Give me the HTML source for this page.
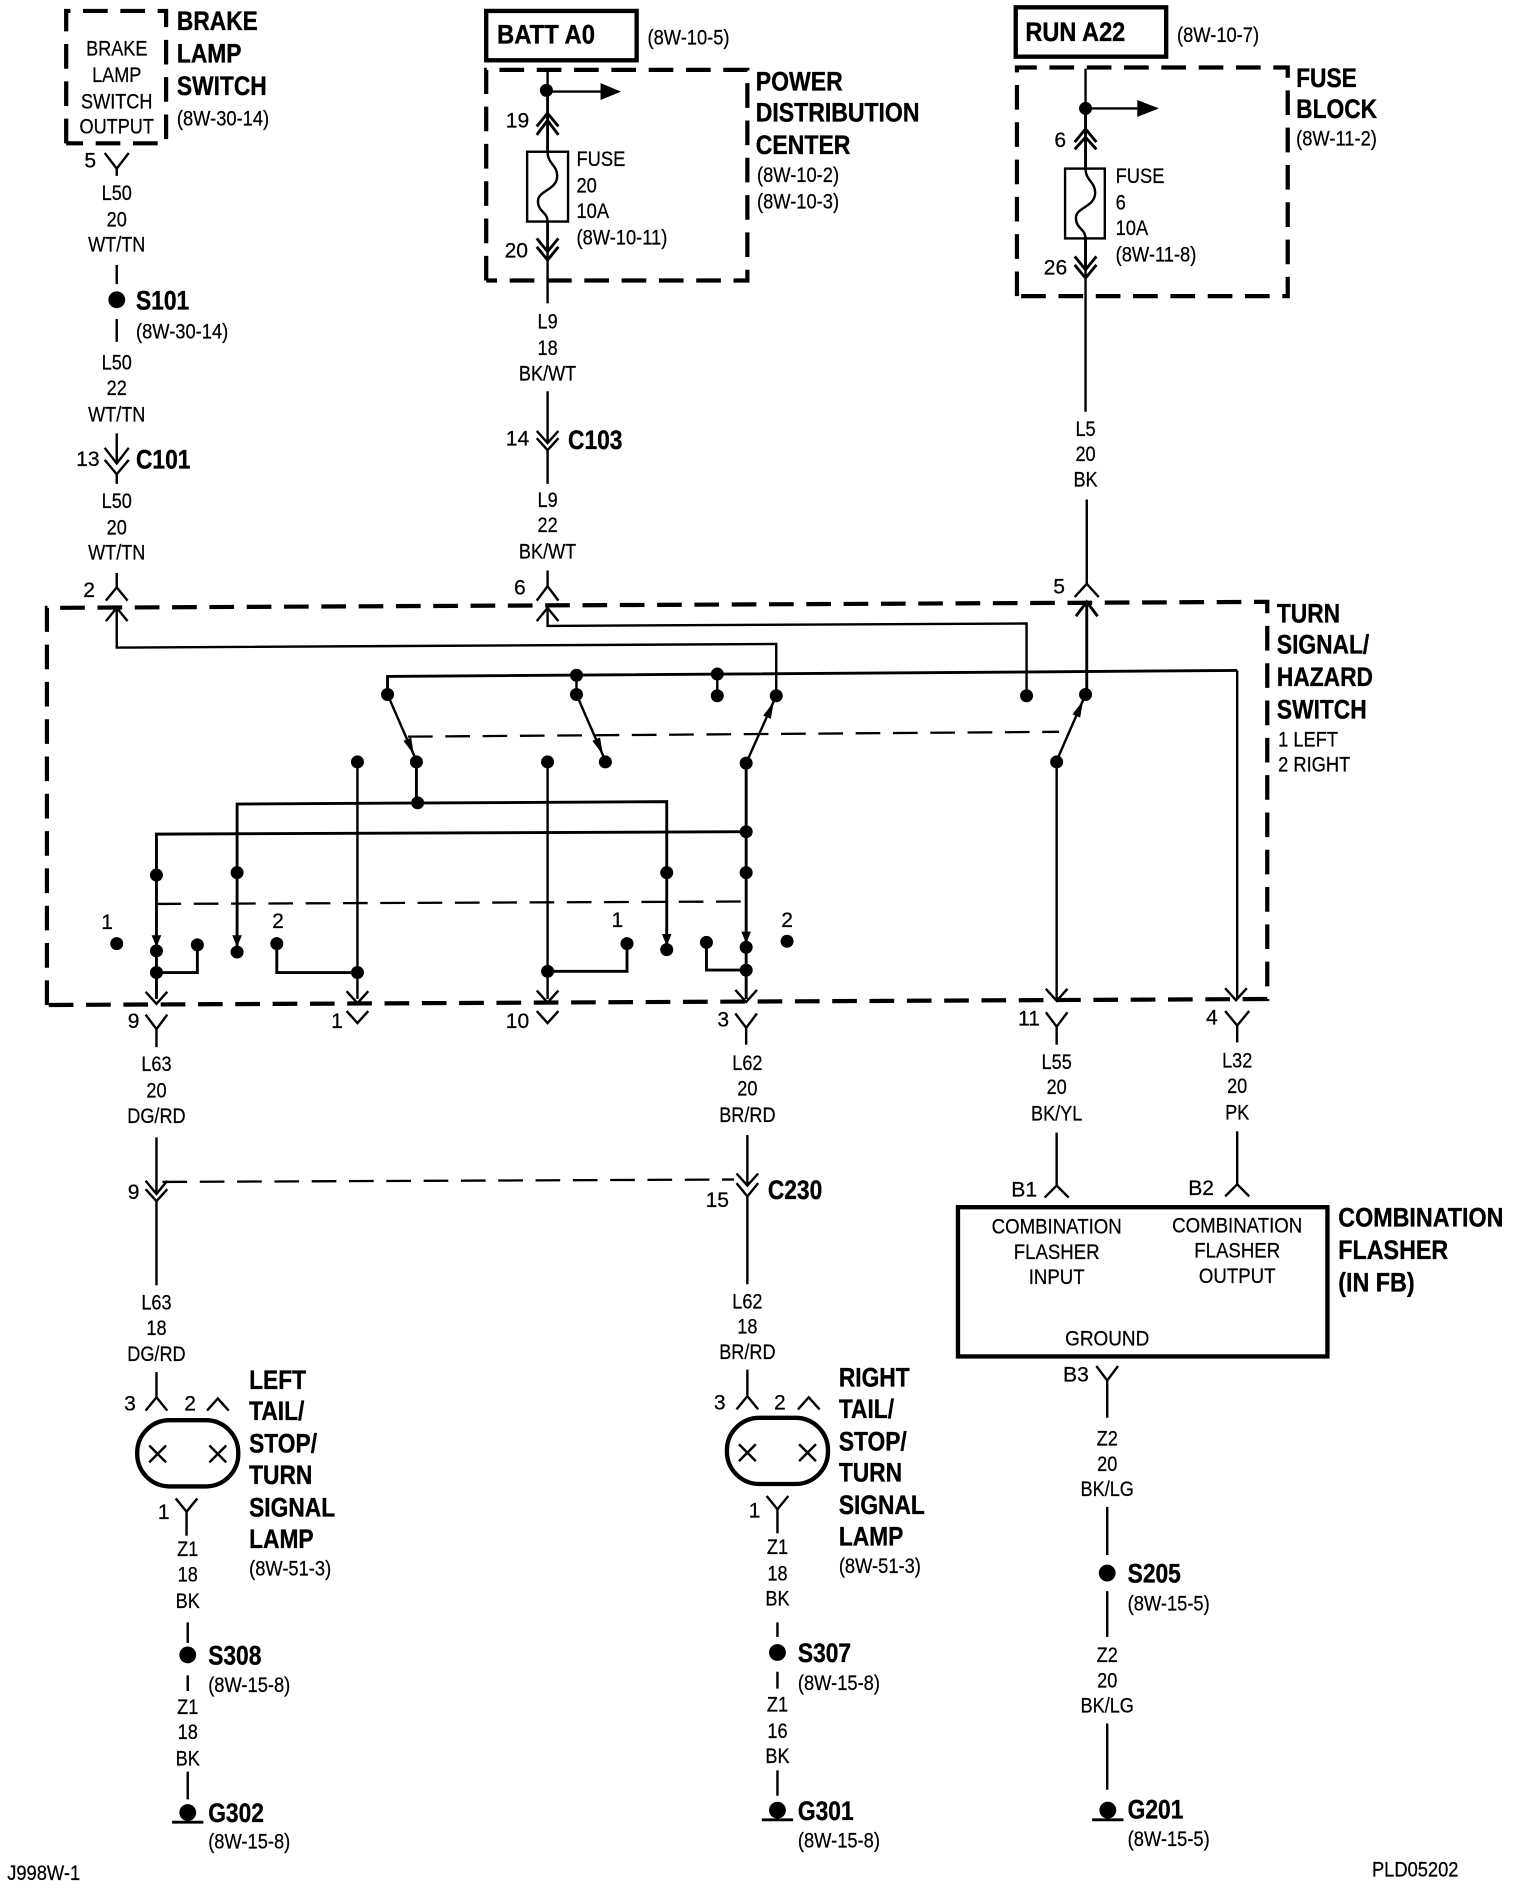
<!DOCTYPE html>
<html><head><meta charset="utf-8"><title>Turn signal wiring diagram</title>
<style>
html,body{margin:0;padding:0;background:#fff}
svg{display:block;width:1520px;height:1888px}
text{font-family:"Liberation Sans",sans-serif;fill:#000;stroke:#000}
.t{font-size:17.5px;stroke-width:.2}
.b{font-size:22px;font-weight:bold;stroke-width:.3}
.m{text-anchor:middle}
.w{fill:none;stroke:#000;stroke-width:2;stroke-linejoin:miter}
.h{fill:none;stroke:#000;stroke-width:2.4}
.d{fill:none;stroke:#000;stroke-width:3.5;stroke-dasharray:20.5 10.5}
.a{fill:none;stroke:#000;stroke-width:1.9;stroke-dasharray:20.5 10.5}
.dot{fill:none;stroke:#000;stroke-width:10.8;stroke-linecap:round}
.big{fill:none;stroke:#000;stroke-width:14;stroke-linecap:round}
.box{fill:none;stroke:#000;stroke-width:3.6}
</style></head><body>
<svg viewBox="0 0 1263 1568.6" xmlns="http://www.w3.org/2000/svg">
<rect width="1263" height="1569" fill="#fff"/>

<!-- dashed boxes -->
<path class="d" d="M55 119V9H138V119H55"/>
<path class="d" d="M404 233V58H621V233H404"/>
<path class="d" d="M845 246V56H1070V246H845"/>
<path class="d" d="M39 835V505L1053 500V830L39 835"/>

<!-- solid boxes -->
<rect class="box" x="404" y="9" width="125" height="41"/>
<rect class="box" x="844" y="6" width="125" height="41"/>
<rect class="box" x="796" y="1003" width="307" height="124"/>
<rect class="box" x="114" y="1180" width="84" height="55" rx="27" ry="27"/>
<rect class="box" x="604" y="1178" width="84" height="55" rx="27" ry="27"/>

<!-- lamp X marks -->
<path class="w" d="M124 1201l14 14m0-14l-14 14M174 1201l14 14m0-14l-14 14M614 1200l14 14m0-14l-14 14M664 1200l14 14m0-14l-14 14"/>

<!-- left column -->
<path class="w" d="M87 127L97 140L107 127M97 140V146M97 220V236M97 265V284M97 360V385M87 372L97 385L107 372M87 382L97 394L107 382M97 394V402M97 476V489M88 499L97 488L106 499"/>

<!-- PDC column -->
<path class="w" d="M455 58V76M455 205V252M455 325V368M446 358L455 368L464 358M446 364L455 374L464 364M455 374V402M455 474V487M446 499L455 487L464 499"/>
<path class="h" d="M455 76V125M455 184V209M446 105L455 94L464 105M446 112L455 100L464 112M446 198L455 209L464 198M446 205L455 216L464 205"/>
<path class="w" d="M455 76H499"/>
<path d="M499 69L516 76L499 83Z"/>
<rect class="w" x="438" y="126" width="34" height="58"/>
<path class="w" d="M455 126C455 136 463 137 463 146C463 158 447 158 447 167C447 176 455 176 455 184"/>

<!-- Fuse block column -->
<path class="w" d="M902 57V90M902 342V198"/>
<path class="h" d="M902 90V140M902 198V224M893 118L902 107L911 118M893 124L902 114L911 124M893 213L902 224L911 213M893 220L902 231L911 220"/>
<path class="w" d="M902 90H945"/>
<path d="M945 83L963 90L945 97Z"/>
<rect class="w" x="885" y="140" width="33" height="58"/>
<path class="w" d="M902 140C902 150 910 151 910 160C910 172 894 172 894 181C894 190 902 190 902 198"/>
<path class="w" d="M903 415V485M893 496L903 485L913 496"/>

<!-- switch internals: returns and bus -->
<path class="w" d="M97 505V538L645 535V578M88 516L97 505L106 516"/>
<path class="w" d="M455 505V520L853 518V578M446 516L455 505L464 516"/>
<path class="h" d="M903 500V577M894 512L903 500L912 512"/>
<path class="h" d="M322 577V562L1028 557"/>
<path class="w" d="M1028 557V830M479 561V577M596 560V578"/>
<!-- switch blades -->
<path class="w" stroke-width="1.7" d="M322 577L346 632M479 577L503 632M620 634L645 578M878 632L902 577"/>
<path d="M344 627L341.6 612.7L335.2 615.5ZM501 627L498.6 612.7L492.2 615.5ZM643 583L640.5 597.2L634.1 594.4ZM900 582L897.5 596.2L891.1 593.4Z"/>
<path class="a" d="M339 612L880 608"/>
<path class="a" d="M130 751L620 749"/>
<!-- harness -->
<path class="h" d="M346 633V667M197 725V668L554 666V725M130 727V693L620 691"/>
<path class="h" d="M620 634V830M130 727V830M197 725V790M554 725V790"/>
<path class="w" d="M297 633V830M455 633V830M878 633V830"/>
<path class="h" d="M164 785V808H130M230 784V808H297M521 784V807H455M587 783V806H620"/>
<path d="M126 777L130 787L134 777ZM193 777L197 787L201 777ZM550 776L554 786L558 776ZM616 774L620 784L624 774Z"/>
<!-- bottom arrows -->
<path class="w" d="M121 824L130 834L139 824M288 823.5L297 833.5L306 823.5M446 823L455 833L464 823M611 822.5L620 832.5L629 822.5M869 821.5L878 831.5L887 821.5M1018 821L1027 831L1036 821"/>
<!-- dots in switch -->
<path class="dot" d="M322 577h.01M479 561h.01M479 577h.01M596 560h.01M596 578h.01M645 578h.01M853 578h.01M902 577h.01M297 633h.01M346 633h.01M455 633h.01M503 633h.01M620 634h.01M878 633h.01M347 667h.01M620 691h.01M130 727h.01M197 725h.01M554 725h.01M620 725h.01M97 784h.01M130 790h.01M130 808h.01M164 785h.01M197 791h.01M230 784h.01M297 808h.01M455 807h.01M521 784h.01M554 789h.01M587 783h.01M620 787h.01M620 806h.01M654 782h.01"/>
<path class="dot" d="M454 75h.01M902 90h.01"/>

<!-- below switch connectors -->
<path class="w" d="M121 843L130 855L139 843M130 855V870M288 840L297 850L306 840M446 840L455 850L464 840M611 842L620 854L629 842M620 854V868M869 841L878 853L887 841M878 853V868M1018 840L1028 852L1038 840M1028 852V866"/>

<!-- lower wires -->
<path class="w" d="M130 945V992M121 981L130 992L139 981M121 988L130 998L139 988M130 998V1068M621 943V985M612 975L621 985L630 975M612 983L621 994L630 983M621 994V1067"/>
<path class="a" d="M135 982L610 980"/>
<path class="w" d="M130 1140V1161M121 1172L130 1161L139 1172M172 1172L181 1162L190 1172M621 1138V1160M612 1171L621 1160L630 1171M663 1171L672 1161L681 1171"/>
<path class="w" d="M146 1245L155 1256L164 1245M155 1256V1276M637 1243L646 1254L655 1243M646 1254V1274"/>
<path class="w" d="M156 1348V1365M156 1392V1405M156 1472V1495M646 1348V1360M646 1389V1403M646 1471V1492"/>
<path class="w" d="M878 941V985M868 995L878 985L888 995M1028 940V984M1018 994L1028 984L1038 994M911 1135L920 1147L929 1135M920 1147V1178M920 1252V1292M920 1322V1360M920 1432V1487"/>
<!-- splices -->
<path class="big" d="M97 249h.01M156 1375h.01M646 1373h.01M920 1307h.01M156 1506h.01M646 1504h.01M920.5 1504h.01"/>
<!-- grounds -->
<path class="h" d="M143 1514H169M633 1512H659M907.5 1512H933.5"/>

<!-- bold labels -->
<g transform="translate(147 0) scale(.86 1)"><text class="b" y="25">BRAKE</text><text class="b" y="52">LAMP</text><text class="b" y="79">SWITCH</text></g>
<g transform="translate(413 0) scale(.9 1)"><text class="b" y="36">BATT A0</text></g>
<g transform="translate(852 0) scale(.89 1)"><text class="b" y="34">RUN A22</text></g>
<g transform="translate(628 0) scale(.87 1)"><text class="b" y="75">POWER</text><text class="b" y="101">DISTRIBUTION</text><text class="b" y="128">CENTER</text></g>
<g transform="translate(1077 0) scale(.86 1)"><text class="b" y="72">FUSE</text><text class="b" y="98">BLOCK</text></g>
<g transform="translate(1061 0) scale(.86 1)"><text class="b" y="517">TURN</text><text class="b" y="543">SIGNAL/</text><text class="b" y="570">HAZARD</text><text class="b" y="597">SWITCH</text></g>
<g transform="translate(113 0) scale(.86 1)"><text class="b" y="257">S101</text><text class="b" y="389">C101</text></g>
<g transform="translate(472 0) scale(.86 1)"><text class="b" y="373">C103</text></g>
<g transform="translate(638 0) scale(.86 1)"><text class="b" y="996">C230</text></g>
<g transform="translate(207 0) scale(.86 1)"><text class="b" y="1154">LEFT</text><text class="b" y="1180">TAIL/</text><text class="b" y="1207">STOP/</text><text class="b" y="1233">TURN</text><text class="b" y="1260">SIGNAL</text><text class="b" y="1286">LAMP</text></g>
<g transform="translate(697 0) scale(.86 1)"><text class="b" y="1152">RIGHT</text><text class="b" y="1178">TAIL/</text><text class="b" y="1205">STOP/</text><text class="b" y="1231">TURN</text><text class="b" y="1258">SIGNAL</text><text class="b" y="1284">LAMP</text></g>
<g transform="translate(173 0) scale(.86 1)"><text class="b" y="1383">S308</text><text class="b" y="1514">G302</text></g>
<g transform="translate(663 0) scale(.86 1)"><text class="b" y="1381">S307</text><text class="b" y="1512">G301</text></g>
<g transform="translate(937 0) scale(.86 1)"><text class="b" y="1315">S205</text><text class="b" y="1511">G201</text></g>
<g transform="translate(1112 0) scale(.88 1)"><text class="b" y="1019">COMBINATION</text><text class="b" y="1046">FLASHER</text><text class="b" y="1073">(IN FB)</text></g>

<!-- regular left aligned -->
<g transform="translate(147 0) scale(.87 1)"><text class="t" y="104">(8W-30-14)</text></g>
<g transform="translate(113 0) scale(.87 1)"><text class="t" y="281">(8W-30-14)</text></g>
<g transform="translate(538 0) scale(.87 1)"><text class="t" y="37">(8W-10-5)</text></g>
<g transform="translate(978 0) scale(.87 1)"><text class="t" y="35">(8W-10-7)</text></g>
<g transform="translate(629 0) scale(.87 1)"><text class="t" y="151">(8W-10-2)</text><text class="t" y="173">(8W-10-3)</text></g>
<g transform="translate(1077 0) scale(.87 1)"><text class="t" y="121">(8W-11-2)</text></g>
<g transform="translate(479 0) scale(.87 1)"><text class="t" y="138">FUSE</text><text class="t" y="160">20</text><text class="t" y="181">10A</text><text class="t" y="203">(8W-10-11)</text></g>
<g transform="translate(927 0) scale(.87 1)"><text class="t" y="152">FUSE</text><text class="t" y="174">6</text><text class="t" y="195">10A</text><text class="t" y="217">(8W-11-8)</text></g>
<g transform="translate(1062 0) scale(.87 1)"><text class="t" y="620">1 LEFT</text><text class="t" y="641">2 RIGHT</text></g>
<g transform="translate(207 0) scale(.87 1)"><text class="t" y="1309">(8W-51-3)</text></g>
<g transform="translate(697 0) scale(.87 1)"><text class="t" y="1307">(8W-51-3)</text></g>
<g transform="translate(173 0) scale(.87 1)"><text class="t" y="1406">(8W-15-8)</text><text class="t" y="1536">(8W-15-8)</text></g>
<g transform="translate(663 0) scale(.87 1)"><text class="t" y="1404">(8W-15-8)</text><text class="t" y="1535">(8W-15-8)</text></g>
<g transform="translate(937 0) scale(.87 1)"><text class="t" y="1338">(8W-15-5)</text><text class="t" y="1534">(8W-15-5)</text></g>
<g transform="translate(6 0) scale(.87 1)"><text class="t" y="1562">J998W-1</text></g>
<g transform="translate(1140 0) scale(.87 1)"><text class="t" y="1559">PLD05202</text></g>

<!-- centered columns -->
<g transform="translate(97 0) scale(.86 1)"><text class="t m" y="46">BRAKE</text><text class="t m" y="68">LAMP</text><text class="t m" y="90">SWITCH</text><text class="t m" y="111">OUTPUT</text>
<text class="t m" y="166">L50</text><text class="t m" y="188">20</text><text class="t m" y="209">WT/TN</text>
<text class="t m" y="307">L50</text><text class="t m" y="328">22</text><text class="t m" y="350">WT/TN</text>
<text class="t m" y="422">L50</text><text class="t m" y="444">20</text><text class="t m" y="465">WT/TN</text></g>
<g transform="translate(455 0) scale(.86 1)"><text class="t m" y="273">L9</text><text class="t m" y="295">18</text><text class="t m" y="316">BK/WT</text>
<text class="t m" y="421">L9</text><text class="t m" y="442">22</text><text class="t m" y="464">BK/WT</text></g>
<g transform="translate(902 0) scale(.86 1)"><text class="t m" y="362">L5</text><text class="t m" y="383">20</text><text class="t m" y="404">BK</text></g>
<g transform="translate(130 0) scale(.86 1)"><text class="t m" y="890">L63</text><text class="t m" y="912">20</text><text class="t m" y="933">DG/RD</text>
<text class="t m" y="1088">L63</text><text class="t m" y="1109">18</text><text class="t m" y="1131">DG/RD</text></g>
<g transform="translate(621 0) scale(.86 1)"><text class="t m" y="889">L62</text><text class="t m" y="910">20</text><text class="t m" y="932">BR/RD</text>
<text class="t m" y="1087">L62</text><text class="t m" y="1108">18</text><text class="t m" y="1129">BR/RD</text></g>
<g transform="translate(878 0) scale(.86 1)"><text class="t m" y="888">L55</text><text class="t m" y="909">20</text><text class="t m" y="931">BK/YL</text></g>
<g transform="translate(1028 0) scale(.86 1)"><text class="t m" y="887">L32</text><text class="t m" y="908">20</text><text class="t m" y="930">PK</text></g>
<g transform="translate(878 0) scale(.885 1)"><text class="t m" y="1025">COMBINATION</text><text class="t m" y="1046">FLASHER</text><text class="t m" y="1067">INPUT</text></g>
<g transform="translate(1028 0) scale(.885 1)"><text class="t m" y="1024">COMBINATION</text><text class="t m" y="1045">FLASHER</text><text class="t m" y="1066">OUTPUT</text></g>
<g transform="translate(920 0) scale(.9 1)"><text class="t m" y="1118">GROUND</text></g>
<g transform="translate(920 0) scale(.86 1)"><text class="t m" y="1201">Z2</text><text class="t m" y="1222">20</text><text class="t m" y="1243">BK/LG</text>
<text class="t m" y="1381">Z2</text><text class="t m" y="1402">20</text><text class="t m" y="1423">BK/LG</text></g>
<g transform="translate(156 0) scale(.86 1)"><text class="t m" y="1293">Z1</text><text class="t m" y="1314">18</text><text class="t m" y="1336">BK</text>
<text class="t m" y="1424">Z1</text><text class="t m" y="1445">18</text><text class="t m" y="1467">BK</text></g>
<g transform="translate(646 0) scale(.86 1)"><text class="t m" y="1291">Z1</text><text class="t m" y="1313">18</text><text class="t m" y="1334">BK</text>
<text class="t m" y="1422">Z1</text><text class="t m" y="1444">16</text><text class="t m" y="1465">BK</text></g>

<!-- pin numbers -->
<g class="pins">
<text class="t m" x="75" y="139">5</text><text class="t m" x="73" y="387">13</text><text class="t m" x="74" y="496">2</text>
<text class="t m" x="430" y="106">19</text><text class="t m" x="429" y="214">20</text><text class="t m" x="430" y="370">14</text><text class="t m" x="432" y="494">6</text>
<text class="t m" x="881" y="122">6</text><text class="t m" x="877" y="228">26</text><text class="t m" x="880" y="493">5</text>
<text class="t m" x="89" y="772">1</text><text class="t m" x="231" y="771">2</text><text class="t m" x="513" y="770">1</text><text class="t m" x="654" y="770">2</text>
<text class="t m" x="111" y="854">9</text><text class="t m" x="280" y="854">1</text><text class="t m" x="430" y="854">10</text><text class="t m" x="601" y="853">3</text><text class="t m" x="855" y="852">11</text><text class="t m" x="1007" y="851">4</text>
<text class="t m" x="111" y="996">9</text><text class="t m" x="596" y="1003">15</text>
<text class="t m" x="108" y="1172">3</text><text class="t m" x="158" y="1172">2</text><text class="t m" x="598" y="1171">3</text><text class="t m" x="648" y="1171">2</text>
<text class="t m" x="136" y="1262">1</text><text class="t m" x="627" y="1261">1</text>
<text class="t m" x="851" y="994">B1</text><text class="t m" x="998" y="993">B2</text><text class="t m" x="894" y="1148">B3</text>
</g>
</svg>
</body></html>
